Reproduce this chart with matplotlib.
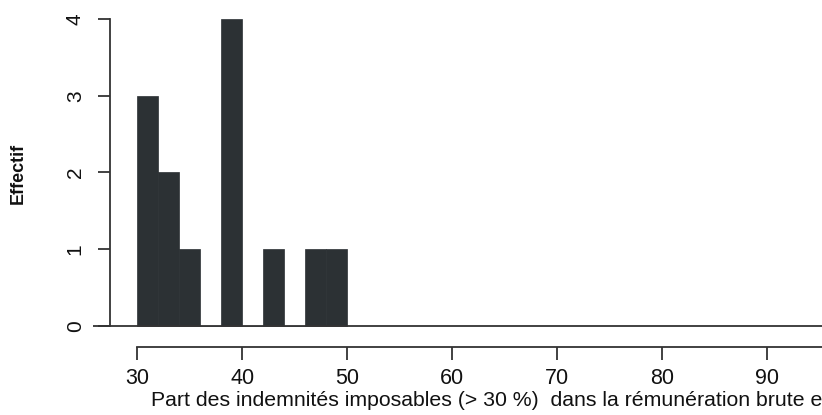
import numpy as np
import matplotlib
matplotlib.use("Agg")
import matplotlib.pyplot as plt

plt.rcParams['font.family'] = ['Liberation Sans', 'DejaVu Sans']

# histogram data (bins of width 2)
bin_edges = [30, 32, 34, 36, 38, 40, 42, 44, 46, 48, 50]
counts = [3, 2, 1, 0, 4, 0, 1, 0, 1, 1]
xticks = [30, 40, 50, 60, 70, 80, 90]
yticks = [0, 1, 2, 3, 4]
xlabel = "Part des indemnités imposables (> 30 %)  dans la rémunération brute en %"
ylabel = "Effectif"

def main():
	fig = plt.figure(figsize=(8.22, 4.15), dpi=100)
	ax = fig.add_axes([93 / 822, 81.3 / 415, 729 / 822, 322.4 / 415])

	lefts = np.array(bin_edges[:-1])
	widths = np.diff(bin_edges)
	ax.bar(lefts, counts, width=widths, align='edge', color='#2c3134',
		edgecolor='#2c3134', linewidth=0.5, zorder=2)
	ax.axhline(0, color='#333333', linewidth=1.3, zorder=3)

	for s in ['top', 'right']:
		ax.spines[s].set_visible(False)
	ax.spines['left'].set_position(('data', 27.4))
	ax.spines['left'].set_bounds(0, 4)
	ax.spines['bottom'].set_position(('outward', 9.5))
	ax.spines['bottom'].set_bounds(30, 100)
	for s in ['left', 'bottom']:
		ax.spines[s].set_color('#333333')
		ax.spines[s].set_linewidth(1.3)

	ax.set_xticks(xticks)
	ax.set_yticks(yticks)
	ax.set_xlim(25.8, 95.24)
	ax.set_ylim(-0.1, 4.1)
	ax.tick_params(axis='x', length=9, width=1.3, color='#333333',
		labelsize=15.5, pad=6, labelcolor='#111111')
	ax.tick_params(axis='y', length=9, width=1.3, color='#333333',
		labelsize=15, pad=9, labelcolor='#111111', labelrotation=90)
	for lab in ax.get_yticklabels():
		lab.set_verticalalignment('center')

	fig.text(151 / 822, 15 / 415, xlabel, ha='left', va='center',
		fontsize=15.3, color='#111111')
	fig.text(18 / 822, 242 / 415, ylabel, ha='center', va='center',
		rotation=90, fontsize=13, color='#111111', fontweight='bold')

	fig.savefig("out.png", dpi=100)

if __name__ == '__main__':
	main()
